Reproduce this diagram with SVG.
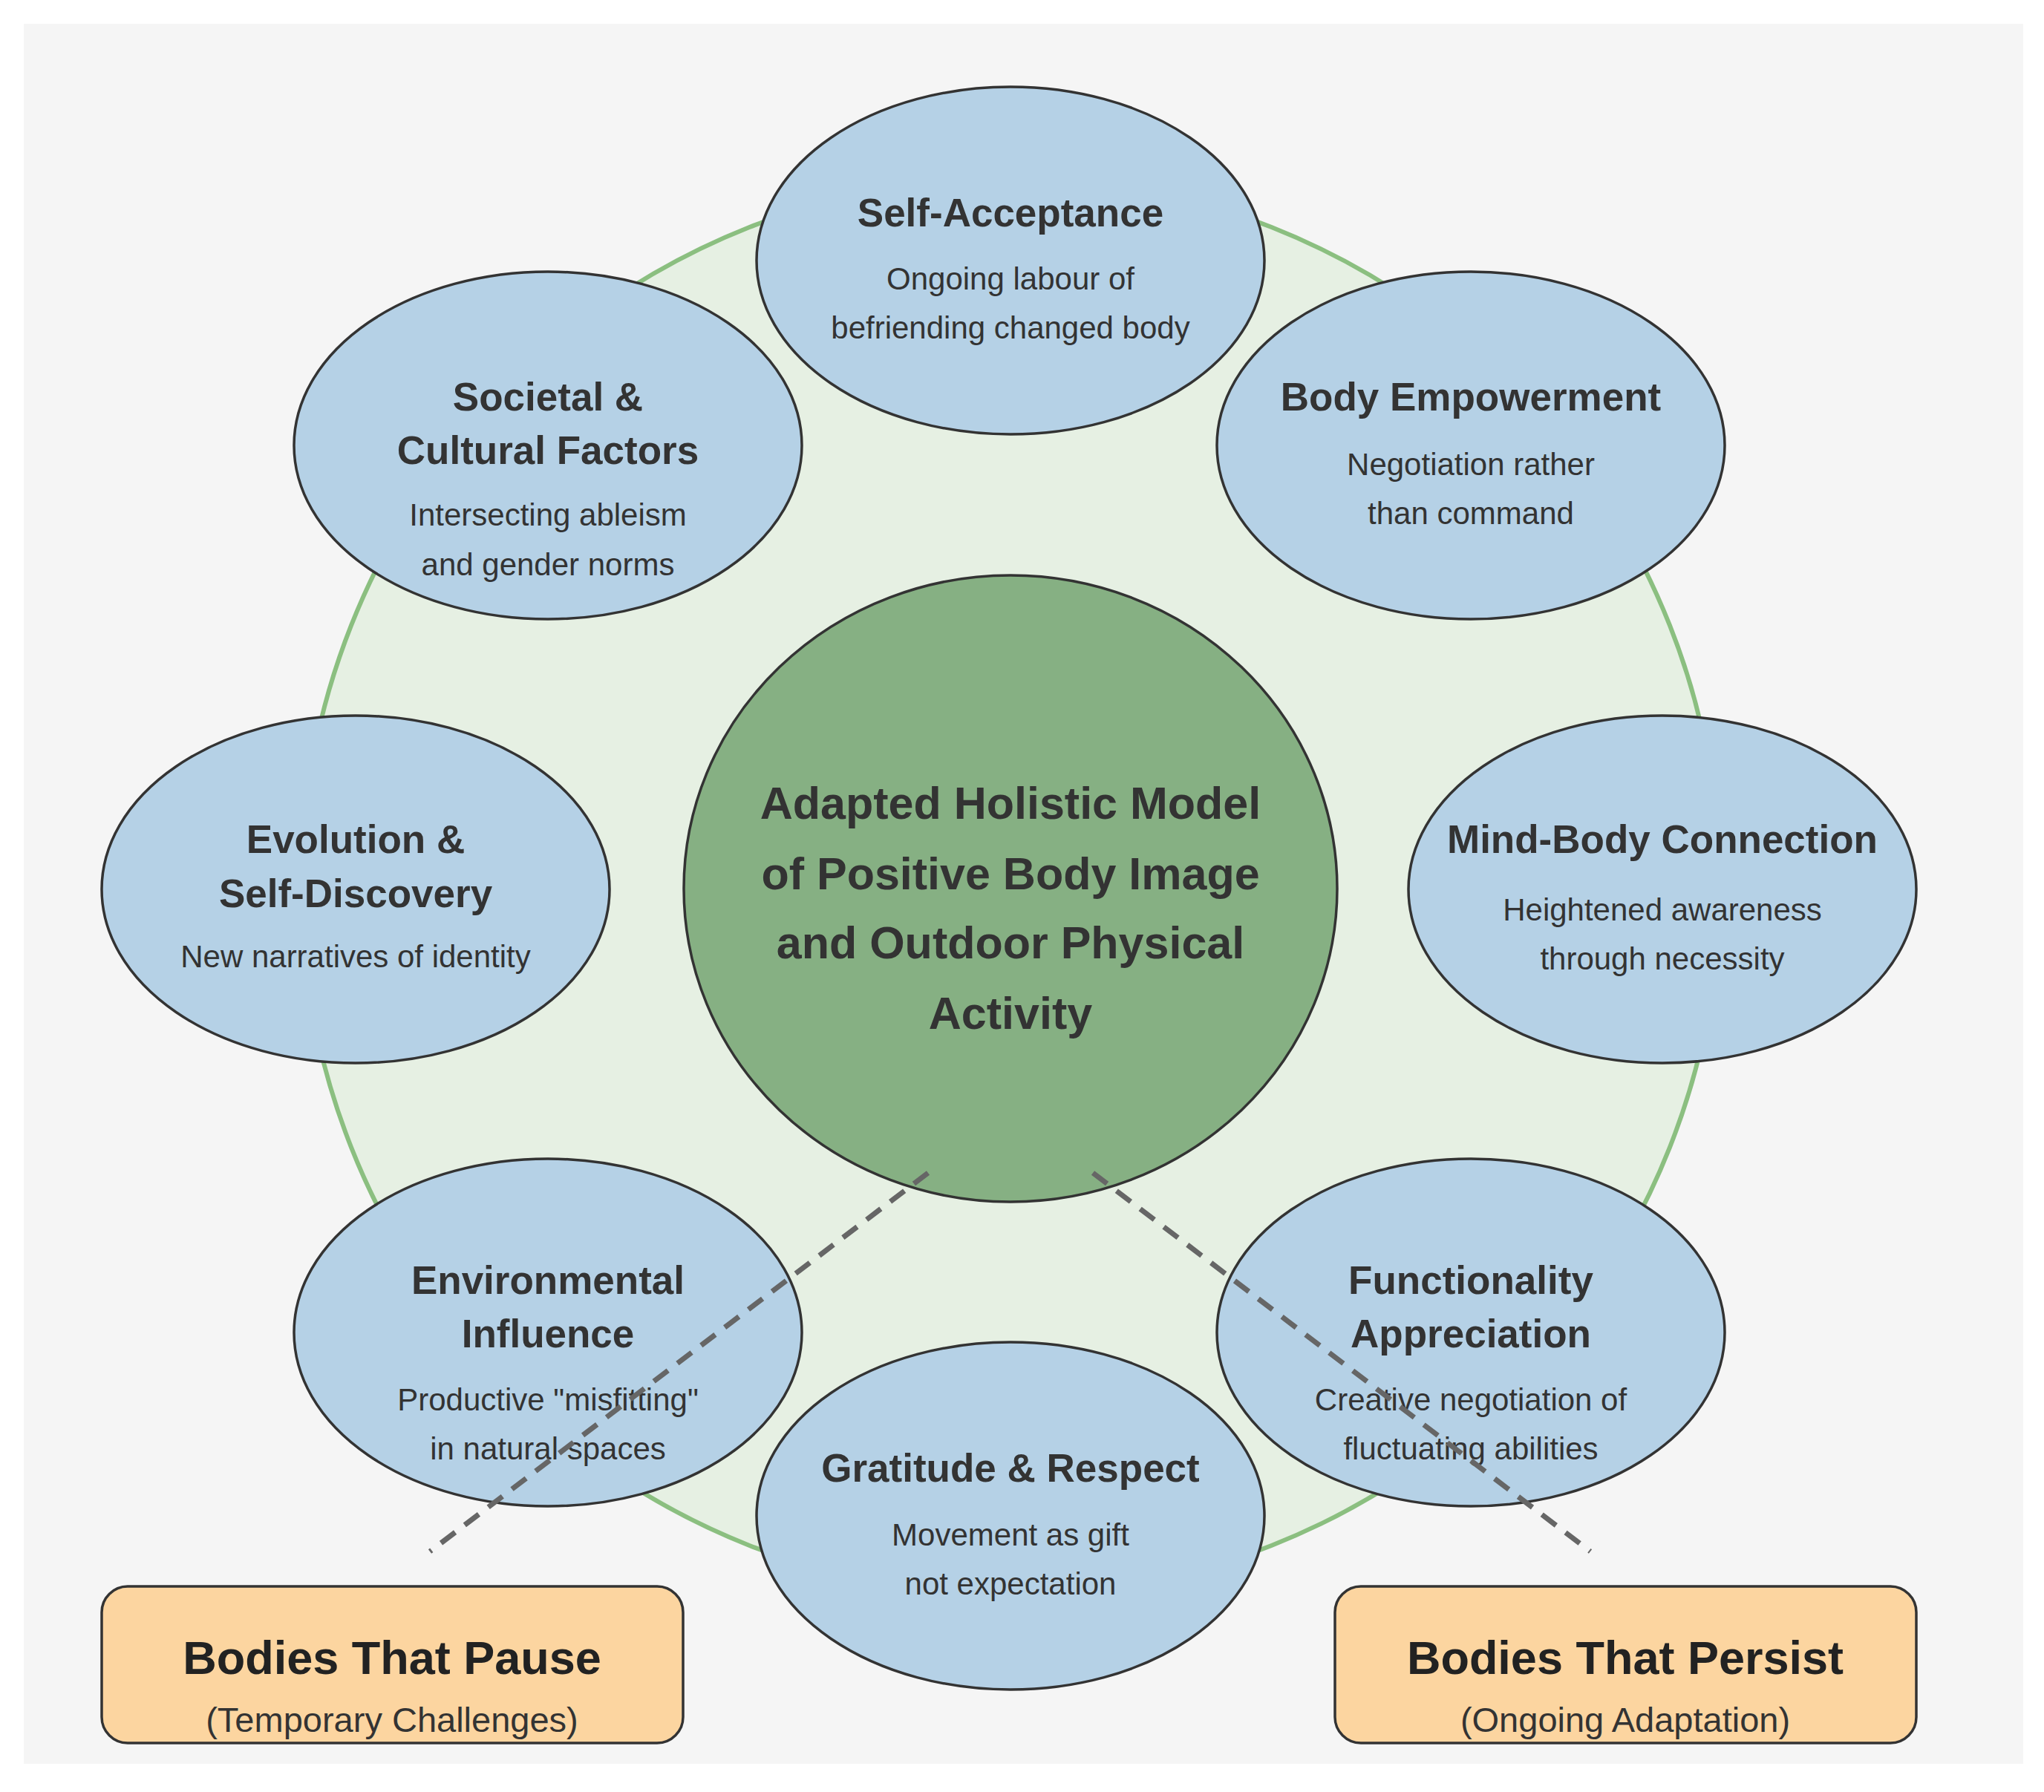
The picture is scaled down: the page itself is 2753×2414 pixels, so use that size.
<svg xmlns="http://www.w3.org/2000/svg" width="2753" height="2414" viewBox="0 0 2753 2414">
<style>
.n{fill:#b5d1e6;stroke:#333;stroke-width:3.5}
.t{font-family:"Liberation Sans",Arial,sans-serif;font-weight:bold;font-size:53px;fill:#333;text-anchor:middle}
.s{font-family:"Liberation Sans",Arial,sans-serif;font-size:42px;fill:#333;text-anchor:middle}
.c{font-family:"Liberation Sans",Arial,sans-serif;font-weight:bold;font-size:61px;fill:#333;text-anchor:middle}
.b{fill:#fcd5a0;stroke:#333;stroke-width:3.5}
.bt{font-family:"Liberation Sans",Arial,sans-serif;font-weight:bold;font-size:63px;fill:#222;text-anchor:middle}
.bs{font-family:"Liberation Sans",Arial,sans-serif;font-size:47px;fill:#333;text-anchor:middle}
</style>
<rect width="2753" height="2414" fill="#fff"/>
<rect x="32" y="32" width="2693" height="2344" fill="#f5f5f5"/>
<circle id="ring" cx="1361" cy="1194" r="955" fill="#e6f0e3" stroke="#8bbf80" stroke-width="6"/>
<g id="center"><ellipse cx="1361" cy="1197" rx="440" ry="422" fill="#86b083" stroke="#333" stroke-width="3.5"/>
<text class="c" x="1361" y="1103">Adapted Holistic Model</text><text class="c" x="1361" y="1198">of Positive Body Image</text><text class="c" x="1361" y="1291">and Outdoor Physical</text><text class="c" x="1361" y="1386">Activity</text></g>
<g id="self-acceptance"><ellipse class="n" cx="1361" cy="351" rx="342" ry="234"/><text class="t" x="1361" y="305">Self-Acceptance</text><text class="s" x="1361" y="390">Ongoing labour of</text><text class="s" x="1361" y="456">befriending changed body</text></g>
<g id="body-empowerment"><ellipse class="n" cx="1981" cy="600" rx="342" ry="234"/><text class="t" x="1981" y="553">Body Empowerment</text><text class="s" x="1981" y="640">Negotiation rather</text><text class="s" x="1981" y="706">than command</text></g>
<g id="mind-body"><ellipse class="n" cx="2239" cy="1198" rx="342" ry="234"/><text class="t" x="2239" y="1149">Mind-Body Connection</text><text class="s" x="2239" y="1240">Heightened awareness</text><text class="s" x="2239" y="1306">through necessity</text></g>
<g id="gratitude"><ellipse class="n" cx="1361" cy="2042" rx="342" ry="234"/><text class="t" x="1361" y="1996">Gratitude &amp; Respect</text><text class="s" x="1361" y="2082">Movement as gift</text><text class="s" x="1361" y="2148">not expectation</text></g>
<g id="evolution"><ellipse class="n" cx="479" cy="1198" rx="342" ry="234"/><text class="t" x="479" y="1149">Evolution &amp;</text><text class="t" x="479" y="1222">Self-Discovery</text><text class="s" x="479" y="1303">New narratives of identity</text></g>
<g id="societal"><ellipse class="n" cx="738" cy="600" rx="342" ry="234"/><text class="t" x="738" y="553">Societal &amp;</text><text class="t" x="738" y="625">Cultural Factors</text><text class="s" x="738" y="708">Intersecting ableism</text><text class="s" x="738" y="775">and gender norms</text></g>
<g id="environmental"><ellipse class="n" cx="738" cy="1795" rx="342" ry="234"/><text class="t" x="738" y="1743">Environmental</text><text class="t" x="738" y="1815">Influence</text><text class="s" x="738" y="1900">Productive "misfitting"</text><text class="s" x="738" y="1966">in natural spaces</text></g>
<g id="functionality"><ellipse class="n" cx="1981" cy="1795" rx="342" ry="234"/><text class="t" x="1981" y="1743">Functionality</text><text class="t" x="1981" y="1815">Appreciation</text><text class="s" x="1981" y="1900">Creative negotiation of</text><text class="s" x="1981" y="1966">fluctuating abilities</text></g>
<g id="connectors" stroke="#666" stroke-width="7" stroke-dasharray="24,16" fill="none">
<line x1="1250" y1="1580" x2="579" y2="2090"/><line x1="1472" y1="1580" x2="2142" y2="2090"/></g>
<g id="pause"><rect class="b" x="137" y="2137" width="783" height="211" rx="35"/><text class="bt" x="528" y="2255">Bodies That Pause</text><text class="bs" x="528" y="2333">(Temporary Challenges)</text></g>
<g id="persist"><rect class="b" x="1798" y="2137" width="783" height="211" rx="35"/><text class="bt" x="2189" y="2255">Bodies That Persist</text><text class="bs" x="2189" y="2333">(Ongoing Adaptation)</text></g>
</svg>
